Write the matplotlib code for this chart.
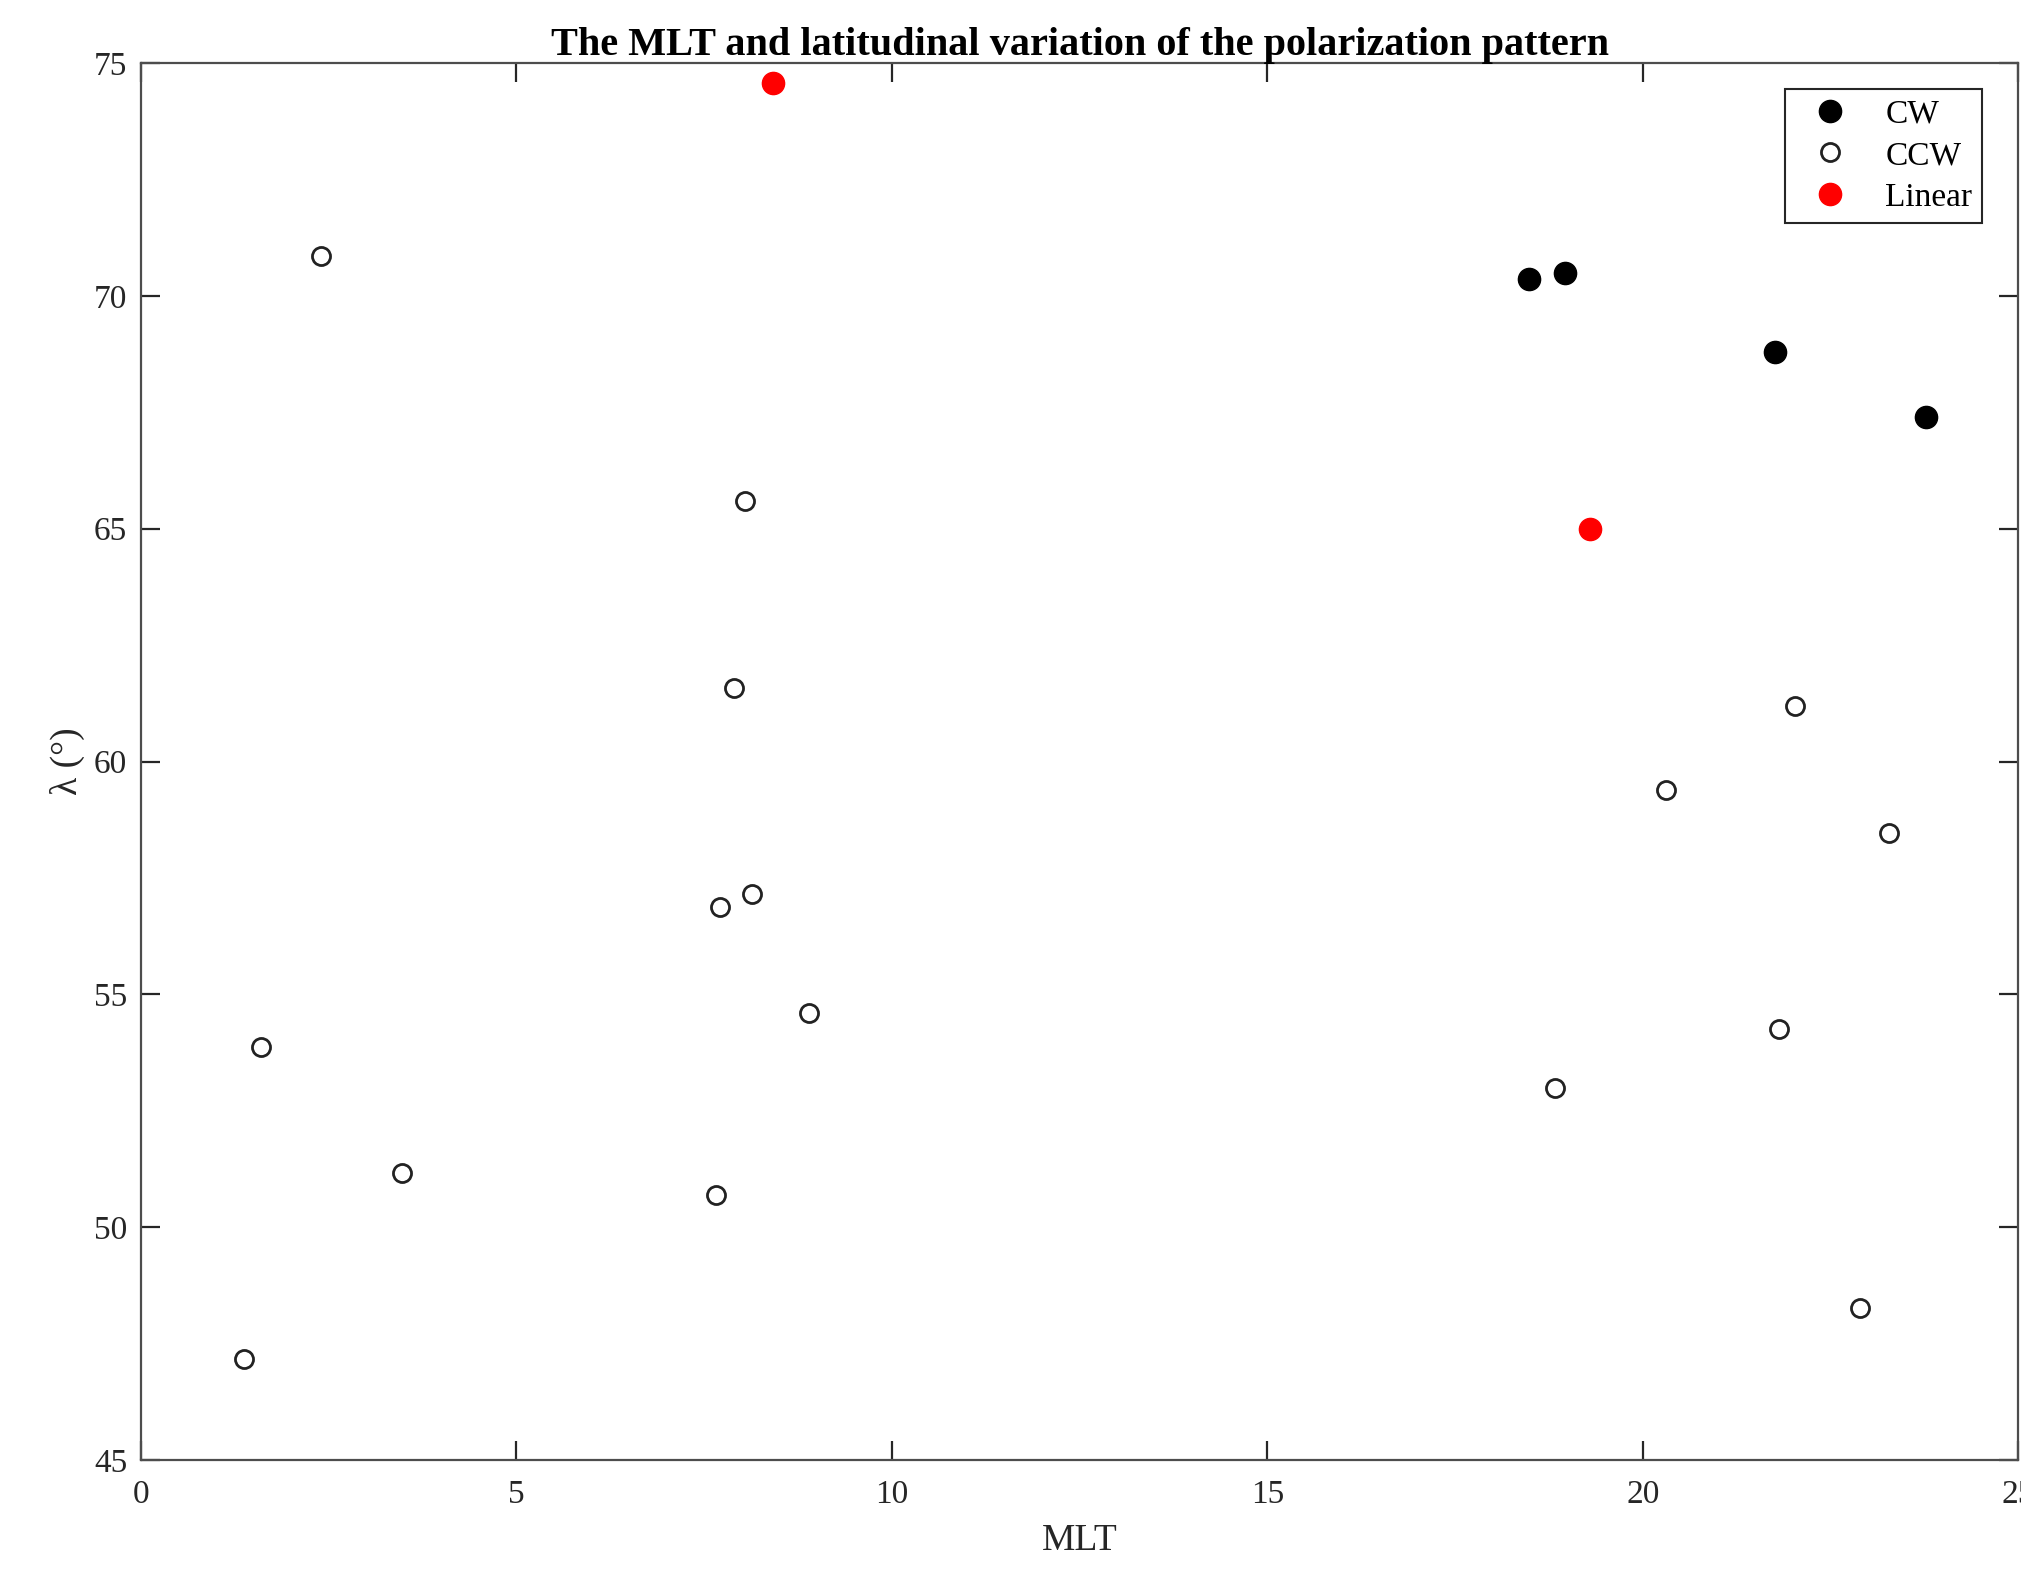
import matplotlib
matplotlib.use("Agg")
from matplotlib import pyplot

pyplot.rcParams["font.family"] = ["Liberation Serif", "DejaVu Serif"]

# MLT and latitude of each event, split by polarization sense
cw_mlt = [18.49, 18.97, 21.76, 23.77]
cw_lat = [70.36, 70.49, 68.79, 67.40]

ccw_mlt = [2.39, 8.04, 7.90, 8.14, 7.71, 8.90, 1.60, 3.47, 7.66, 1.37,
           22.03, 20.31, 23.28, 21.82, 18.83, 22.89]
ccw_lat = [70.85, 65.60, 61.59, 57.16, 56.88, 54.60, 53.88, 51.17, 50.70, 47.16,
           61.20, 59.38, 58.47, 54.26, 52.99, 48.27]

lin_mlt = [8.42, 19.30]
lin_lat = [74.57, 64.99]

x_ticks = [0, 5, 10, 15, 20, 25]
y_ticks = [45, 50, 55, 60, 65, 70, 75]

fig = pyplot.figure(figsize=(20.21, 15.72), dpi=100)
axes = fig.add_axes([0.0698, 0.0712, 0.9288, 0.8887])

axes.plot(cw_mlt, cw_lat, "o", color="black", markersize=16, linestyle="none", label="CW")
axes.plot(ccw_mlt, ccw_lat, "o", markerfacecolor="white", markeredgecolor="#222222",
          markeredgewidth=2, markersize=13, linestyle="none", label="CCW")
axes.plot(lin_mlt, lin_lat, "o", color="red", markersize=16, linestyle="none", label="Linear")

axes.set_xlim(0, 25)
axes.set_ylim(45, 75)
axes.set_xticks(x_ticks)
axes.set_yticks(y_ticks)

for s in axes.spines.values():
    s.set_color("#4d4d4d")
    s.set_linewidth(1.6)
axes.tick_params(direction="in", length=14, width=1.6, color="#262626",
                 labelsize=24, labelcolor="#262626", top=True, right=True)
axes.tick_params(axis="x", pad=14)
axes.tick_params(axis="y", pad=10)

axes.set_xlabel("MLT", fontsize=27, color="#262626", labelpad=10)
axes.set_ylabel("λ (°)", fontsize=27, color="#262626", labelpad=6)
axes.set_title("The MLT and latitudinal variation of the polarization pattern",
               fontsize=29, fontweight="bold", pad=6)

leg = axes.legend(loc="upper right", bbox_to_anchor=(0.9808, 0.9814), borderaxespad=0,
                  fontsize=24, fancybox=False, framealpha=1, edgecolor="#262626",
                  labelspacing=0.33, handletextpad=0.6, borderpad=0.3, handlelength=2.1)
leg.get_frame().set_linewidth(1.5)

fig.savefig("out.png", dpi=100)
